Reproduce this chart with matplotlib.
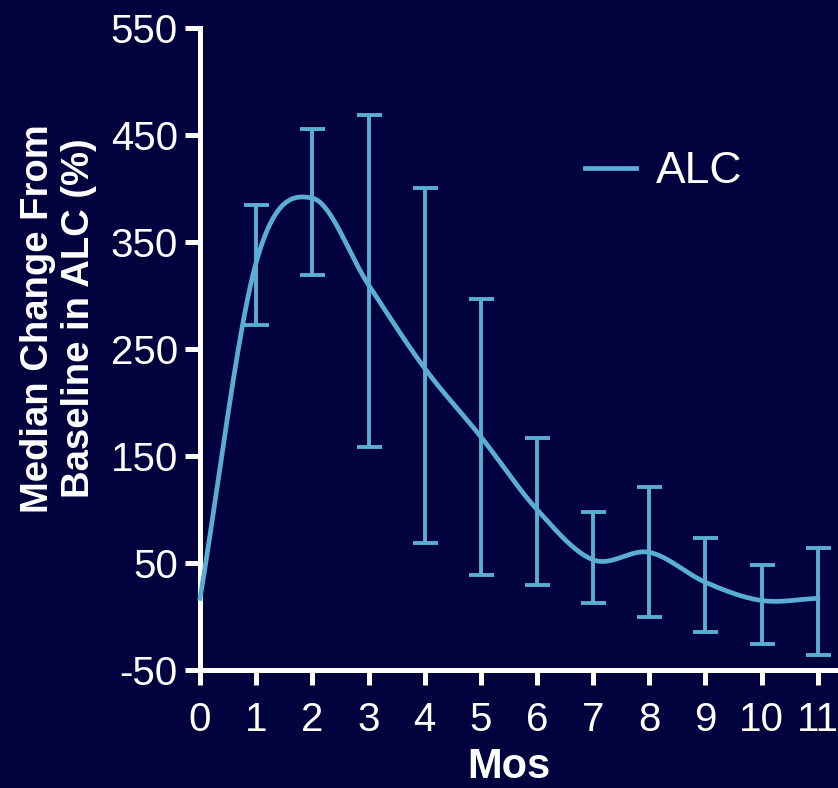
import numpy as np
import matplotlib
matplotlib.use("Agg")
import matplotlib.pyplot as plt

months = [0, 1, 2, 3, 4, 5, 6, 7, 8, 9, 10, 11]
median = [17, 331, 391, 310, 232, 168, 100, 53, 60, 32, 15, 17]
upper = [None, 385, 456, 469, 400, 297, 167, 98, 121, 73, 48, 64]
lower = [None, 272, 319, 158, 69, 39, 29, 13, 0, -14, -26, -36]

bg = "#02023e"
blue = "#5aaed3"


def catmull_rom(x, y, n=40):
    # smooth curve through every point
    x = np.asarray(x, float)
    y = np.asarray(y, float)
    px = np.concatenate([[2 * x[0] - x[1]], x, [2 * x[-1] - x[-2]]])
    py = np.concatenate([[2 * y[0] - y[1]], y, [2 * y[-1] - y[-2]]])
    xs, ys = [], []
    t = np.linspace(0, 1, n)
    for i in range(1, len(px) - 2):
        for arr, out in ((px, xs), (py, ys)):
            p0, p1, p2, p3 = arr[i - 1:i + 3]
            out.append(0.5 * (2 * p1 + (-p0 + p2) * t
                              + (2 * p0 - 5 * p1 + 4 * p2 - p3) * t ** 2
                              + (-p0 + 3 * p1 - 3 * p2 + p3) * t ** 3))
    return np.concatenate(xs), np.concatenate(ys)


plt.rcParams['font.family'] = ['Liberation Sans', 'DejaVu Sans']
plt.rcParams['axes.unicode_minus'] = False

fig = plt.figure(figsize=(8.38, 7.88), dpi=100, facecolor=bg)
ax = fig.add_axes([0.2387, 0.1497, 0.7613, 0.8148], facecolor=bg)

sx, sy = catmull_rom(months, median)
ax.plot(sx, sy, color=blue, lw=3.4, label="ALC", clip_on=False, zorder=3)

ex = [m for m, u in zip(months, upper) if u is not None]
em = [v for v, u in zip(median, upper) if u is not None]
eu = [u for u in upper if u is not None]
el = [l for l in lower if l is not None]
yerr = [np.array(em) - np.array(el), np.array(eu) - np.array(em)]
ax.errorbar(ex, em, yerr=yerr, fmt="none", ecolor=blue, elinewidth=2.8,
            capsize=9, capthick=2.8, clip_on=False, zorder=3)

ax.set_xlim(0, 11.36)
ax.set_ylim(-50, 550)
ax.set_xticks(months)
ax.set_yticks(np.arange(-50, 551, 100))

for s in ["top", "right"]:
    ax.spines[s].set_visible(False)
for s in ["left", "bottom"]:
    ax.spines[s].set_color("white")
    ax.spines[s].set_linewidth(3.6)

ax.tick_params(colors="white", labelsize=29, width=3.6, length=11)
ax.tick_params(axis="x", pad=11)
ax.tick_params(axis="y", pad=5)

ax.set_xlabel("Mos", color="white", fontsize=30, fontweight="bold", labelpad=6)
ax.xaxis.label.set_x(0.484)
ax.set_ylabel("Median Change From\nBaseline in ALC (%)", color="white",
              fontsize=27.5, fontweight="bold", labelpad=10, linespacing=1.15)
ax.yaxis.label.set_y(0.548)

leg = ax.legend(loc="center left", bbox_to_anchor=(0.603, 0.776), frameon=False,
                fontsize=32, handlelength=1.15, handletextpad=0.45,
                borderpad=0, borderaxespad=0)
for t in leg.get_texts():
    t.set_color("white")

fig.savefig("out.png", dpi=100, facecolor=bg)
